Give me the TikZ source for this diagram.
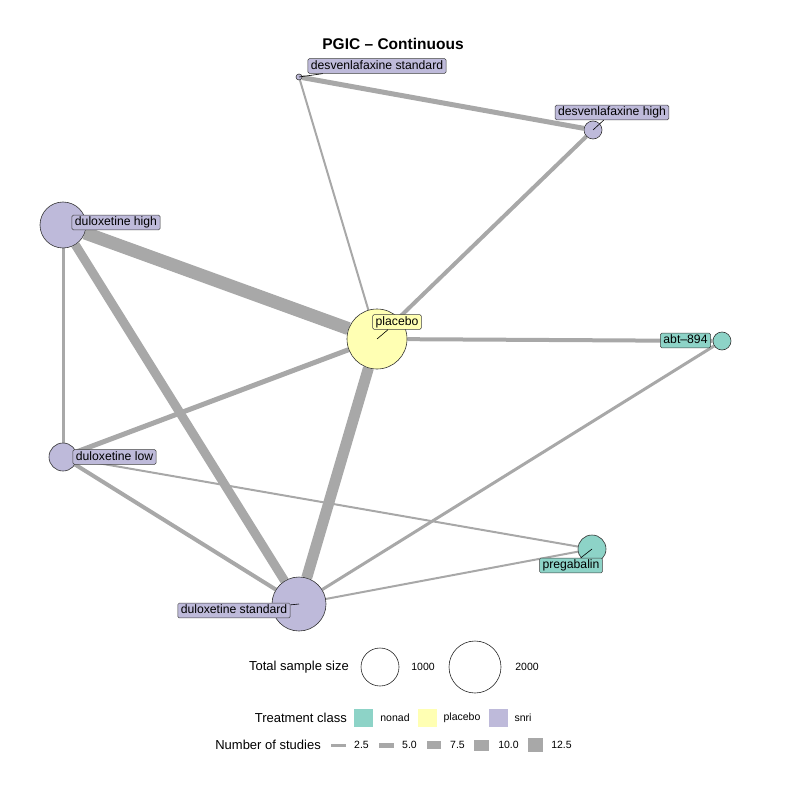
\documentclass[tikz,border=0pt]{standalone}
\usepackage{fontspec}
\setmainfont{Liberation Sans}
\usetikzlibrary{backgrounds}
\definecolor{snri}{HTML}{BEBADA}
\definecolor{plac}{HTML}{FFFFB3}
\definecolor{nonad}{HTML}{8DD3C7}
\definecolor{edgegray}{HTML}{A8A8A8}

\begin{document}
\begin{tikzpicture}[x=1pt, y=-1pt,
  trt/.style={circle, draw=black!80, line width=0.6pt, inner sep=0pt, minimum size=#1},
  lab/.style={draw=black!75, line width=0.5pt, rounded corners=1.5pt, inner xsep=3pt, inner ysep=1.5pt,
    text height=9pt, text depth=2.8pt, font=\fontsize{12.2}{13}\selectfont},
  conn/.style={draw=edgegray, line width=#1},
  lead/.style={black, line width=0.6pt},
  legtxt/.style={inner sep=0pt, font=\fontsize{13}{14}\selectfont},
  keytxt/.style={inner sep=0pt, font=\fontsize{10.5}{12}\selectfont}]
  \useasboundingbox (0,0) rectangle (786,786);

  \node (title) at (393,44) {\fontsize{15.5}{16}\selectfont\bfseries PGIC – Continuous};

  % treatments
  \node[trt=6pt, fill=snri] (dvs) at (299,77) {};
  \node[trt=18pt, fill=snri] (dvh) at (593,130) {};
  \node[trt=46pt, fill=snri] (dh) at (63,225) {};
  \node[trt=60pt, fill=plac] (plac) at (377,339) {};
  \node[trt=18pt, fill=nonad] (abt) at (722,341) {};
  \node[trt=28pt, fill=snri] (dl) at (63,457) {};
  \node[trt=28pt, fill=nonad] (preg) at (592,549) {};
  \node[trt=54pt, fill=snri] (ds) at (299,604) {};

  % comparisons
  \begin{scope}[on background layer]
    \draw[conn=13pt] (plac) -- (dh);
    \draw[conn=11pt] (plac) -- (ds);
    \draw[conn=9pt] (dh) -- (ds);
    \draw[conn=5pt] (plac) -- (dl);
    \draw[conn=4pt] (plac) -- (abt);
    \draw[conn=4pt] (plac) -- (dvh);
    \draw[conn=2pt] (plac) -- (dvs);
    \draw[conn=5pt] (dvs) -- (dvh);
    \draw[conn=3pt] (dh) -- (dl);
    \draw[conn=4pt] (dl) -- (ds);
    \draw[conn=2pt] (dl) -- (preg);
    \draw[conn=2pt] (ds) -- (preg);
    \draw[conn=3pt] (ds) -- (abt);
  \end{scope}

  % labels
  \node[lab, fill=snri] (dvslab) at (377,66) {desvenlafaxine standard};
  \node[lab, fill=snri] (dvhlab) at (612,112.5) {desvenlafaxine high};
  \node[lab, fill=snri] (dhlab) at (116,222.5) {duloxetine high};
  \node[lab, fill=plac] (placlab) at (397,322) {placebo};
  \node[lab, fill=nonad] (abtlab) at (685.5,340.5) {abt–894};
  \node[lab, fill=snri] (dllab) at (114.5,457) {duloxetine low};
  \node[lab, fill=nonad] (preglab) at (571,565.5) {pregabalin};
  \node[lab, fill=snri] (dslab) at (234,610.5) {duloxetine standard};

  \draw[lead] (dvs.center) -- (dvslab);
  \draw[lead] (dvh.center) -- (dvhlab);
  \draw[lead] (plac.center) -- (placlab);
  \draw[lead] (preg.center) -- (preglab);
  \draw[lead] (ds.center) -- (dslab);

  % legend: sample size
  \node[legtxt, anchor=east] (sstitle) at (349,667) {Total sample size};
  \node[circle, draw=black!85, line width=0.6pt, minimum size=38pt] (ss1) at (380,667) {};
  \node[keytxt] (ss1lab) at (423,667) {1000};
  \node[circle, draw=black!85, line width=0.6pt, minimum size=52pt] (ss2) at (475,667) {};
  \node[keytxt] (ss2lab) at (527,667) {2000};

  % legend: treatment class
  \node[legtxt, anchor=east] (tctitle) at (347,718) {Treatment class};
  \fill[nonad] (354,709) rectangle (373,727);
  \node[keytxt] (tc1) at (395,718) {nonad};
  \fill[plac] (418,709) rectangle (437,727);
  \node[keytxt] (tc2) at (462,718) {placebo};
  \fill[snri] (489,709) rectangle (508,727);
  \node[keytxt] (tc3) at (523,718) {snri};

  % legend: number of studies
  \node[legtxt, anchor=east] (nstitle) at (321,745) {Number of studies};
  \fill[edgegray] (331,743.5) rectangle (346,746.5);
  \node[keytxt] (ns1) at (361.5,745) {2.5};
  \fill[edgegray] (379,742.5) rectangle (394,747.5);
  \node[keytxt] (ns2) at (409.5,745) {5.0};
  \fill[edgegray] (427,741) rectangle (441,749);
  \node[keytxt] (ns3) at (457.5,745) {7.5};
  \fill[edgegray] (474,739.5) rectangle (489,750.5);
  \node[keytxt] (ns4) at (508.5,745) {10.0};
  \fill[edgegray] (528,738) rectangle (543,752);
  \node[keytxt] (ns5) at (561.5,745) {12.5};
\end{tikzpicture}
\end{document}
